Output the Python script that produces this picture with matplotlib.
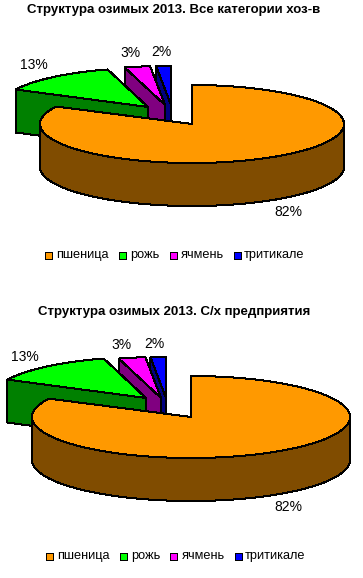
import numpy as np
import matplotlib
matplotlib.use("Agg")
import matplotlib.pyplot as plt
from matplotlib.patches import Polygon, Rectangle

plt.rcParams["font.family"] = ["Liberation Sans", "DejaVu Sans"]

categories = ["пшеница", "рожь", "ячмень", "тритикале"]
shares_all = [82.4, 13.2, 2.8, 1.6]
shares_firms = [82.4, 13.2, 2.8, 1.6]
titles = ["Структура озимых 2013. Все категории хоз-в",
          "Структура озимых 2013. С/х предприятия"]

top_colors = ["#FF9900", "#00FF00", "#FF00FF", "#0000FF"]
side_colors = ["#804C00", "#008000", "#800080", "#000080"]
EDGE = dict(edgecolor="black", linewidth=0.72, antialiased=False, joinstyle="miter")


def arc(cx, cy, rx, ry, a0, a1):
    # angles are clockwise from 12 o'clock, y goes down on screen
    t = np.radians(np.linspace(a0, a1, 120))
    return np.column_stack([cx + rx * np.sin(t), cy - ry * np.cos(t)])


def draw_pie(ax, shares, layout):
    rx, ry, depth = layout["rx"], layout["ry"], layout["depth"]
    ends = np.cumsum(shares) / np.sum(shares) * 360
    starts = np.r_[0, ends[:-1]]

    # exploded slices back to front, wheat goes on top of them
    for i in [3, 2, 1]:
        vx, vy = layout["vertices"][i]
        outer = arc(vx, vy, layout["rx_small"], ry, starts[i], ends[i])
        p0 = outer[0]
        side = [p0, (vx, vy), (vx, vy + depth), (p0[0], p0[1] + depth)]
        ax.add_patch(Polygon(side, facecolor=side_colors[i], **EDGE))
        ax.add_patch(Polygon(np.vstack([[(vx, vy)], outer]), facecolor=top_colors[i], **EDGE))

    cx, cy = layout["center"]
    front = arc(cx, cy, rx, ry, 90, 270)
    wall = np.vstack([front, front[::-1] + [0, depth]])
    ax.add_patch(Polygon(wall, facecolor=side_colors[0], **EDGE))
    ax.add_patch(Polygon(np.vstack([[(cx, cy)], arc(cx, cy, rx, ry, starts[0], ends[0])]),
                         facecolor=top_colors[0], **EDGE))

    for share, (x, y) in zip(shares, layout["labels"]):
        ax.text(x, y, f"{share:.0f}%", ha="center", va="center", fontsize=10, color="black")

    ly = layout["legend_y"]
    for name, color, sx, tx in zip(categories, top_colors, layout["legend_box"], layout["legend_text"]):
        ax.add_patch(Rectangle((sx, ly - 3.5), 7, 7, facecolor=color, **EDGE))
        ax.text(tx, ly, name, ha="left", va="center", fontsize=9.2, color="black")

    ax.text(layout["title"][0], layout["title"][1], layout["title_text"], ha="center", va="center",
            fontsize=layout["title_size"], fontweight="bold", color="black")


layout_top = dict(
    center=(192, 124), rx=152, rx_small=148, ry=39, depth=43,
    vertices=[(192, 124), (148, 107), (165, 105), (171, 105)],
    labels=[(288, 212), (34, 65), (130, 53), (161, 52)],
    legend_y=255, legend_box=[45, 119, 170, 234], legend_text=[56, 130, 181, 244],
    title=(174, 10), title_text=titles[0], title_size=9.5,
)
layout_bottom = dict(
    center=(191, 417), rx=159, rx_small=155, ry=41, depth=43,
    vertices=[(191, 417), (146, 398), (161, 398), (166, 398)],
    labels=[(288, 507), (25, 357), (121, 345), (154, 344)],
    legend_y=556, legend_box=[46, 120, 170, 235], legend_text=[57, 131, 182, 245],
    title=(174, 312), title_text=titles[1], title_size=9.5,
)

fig = plt.figure(figsize=(3.63, 5.78), dpi=100, facecolor="white")
ax = fig.add_axes([0, 0, 1, 1])
ax.set_xlim(0, 363)
ax.set_ylim(578, 0)
ax.axis("off")

draw_pie(ax, shares_all, layout_top)
draw_pie(ax, shares_firms, layout_bottom)

fig.savefig("out.png", dpi=100)
